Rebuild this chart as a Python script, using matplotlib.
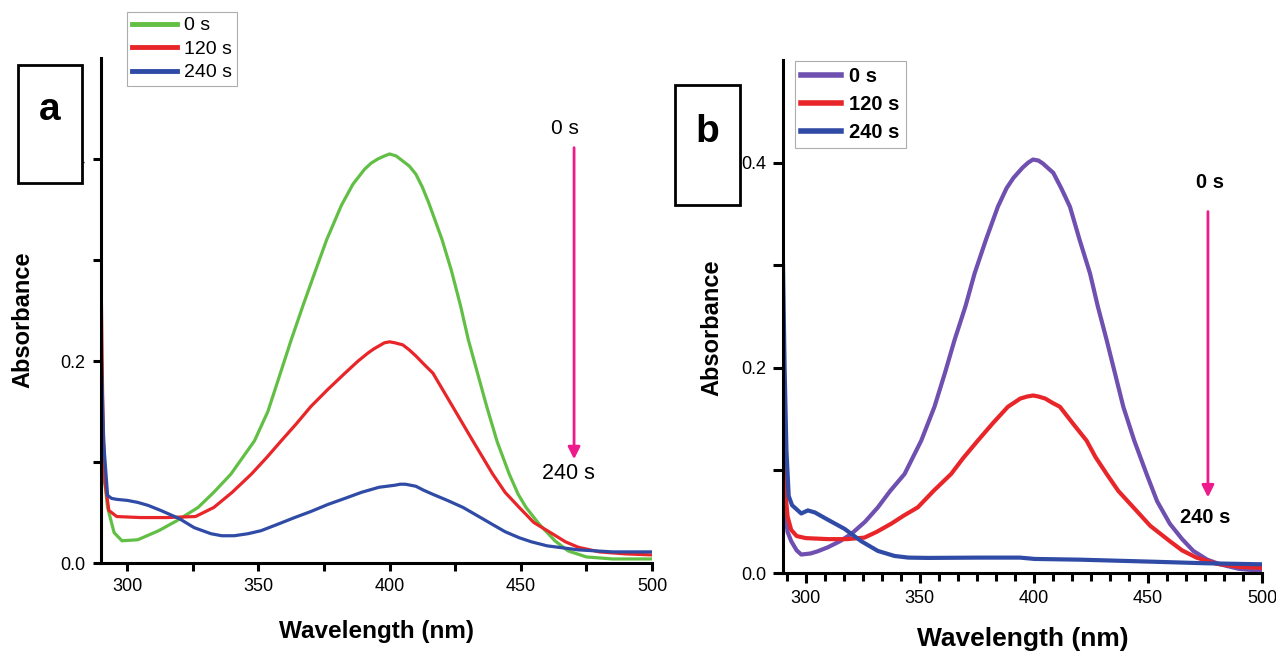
import matplotlib
matplotlib.use("Agg")
import matplotlib.pyplot as plt
import numpy as np
from matplotlib.patches import Rectangle
from matplotlib.ticker import MultipleLocator

plt.rcParams['font.family'] = ['Liberation Sans', 'DejaVu Sans']

# ---- Panel a data (wavelength nm, absorbance) ----
wl_a_0 = [290, 291, 292.5, 295, 298, 304, 312, 319, 327, 333, 339.5, 348.5, 353.6, 358, 362.5,
          367, 371.4, 376, 381.6, 386, 390.5, 393, 395.5, 398, 400, 402.5, 405, 407.5, 410, 412.5,
          415, 420, 423.5, 427, 430, 433.5, 437, 441, 445.6, 449, 452, 457, 463, 468, 475, 485, 500]
abs_a_0 = [0.16, 0.09, 0.055, 0.03, 0.022, 0.023, 0.032, 0.042, 0.055, 0.07, 0.088, 0.121, 0.15,
           0.185, 0.221, 0.255, 0.287, 0.32, 0.354, 0.375, 0.39, 0.396, 0.400, 0.403, 0.405,
           0.403, 0.398, 0.393, 0.385, 0.372, 0.356, 0.32, 0.29, 0.255, 0.221, 0.188, 0.155,
           0.12, 0.088, 0.068, 0.055, 0.0385, 0.022, 0.012, 0.006, 0.004, 0.004]

wl_a_120 = [290, 290.7, 291.5, 293, 296, 305, 315, 326, 333, 340, 347.3, 353, 358.7, 364.5, 370,
            376.5, 383, 388, 391.8, 394, 396, 398, 400, 402, 405, 407.5, 410, 413, 416.5, 424,
            431.7, 439.3, 444, 449.4, 455, 462, 467, 472, 480, 490, 500]
abs_a_120 = [0.29, 0.15, 0.08, 0.052, 0.046, 0.045, 0.045, 0.046, 0.055, 0.07, 0.088, 0.104,
             0.121, 0.138, 0.155, 0.172, 0.188, 0.200, 0.208, 0.212, 0.215, 0.218, 0.219, 0.218,
             0.216, 0.211, 0.205, 0.197, 0.188, 0.155, 0.121, 0.088, 0.07, 0.055, 0.04, 0.029,
             0.021, 0.0155, 0.011, 0.009, 0.008]

wl_a_240 = [290, 291, 292.5, 294, 296, 300, 304, 308, 312.8, 319.8, 325.5, 331.9, 336, 340.8,
            346, 351, 357, 363.8, 370, 376.5, 383, 389.3, 396, 399, 402, 404, 406, 408, 410,
            413, 416.5, 422, 428, 434, 439.3, 444, 449.4, 454, 460, 466, 472, 485, 500]
abs_a_240 = [0.22, 0.12, 0.067, 0.064, 0.063, 0.062, 0.06, 0.057, 0.052, 0.044, 0.035, 0.029,
             0.027, 0.027, 0.029, 0.032, 0.038, 0.045, 0.051, 0.058, 0.064, 0.07, 0.075, 0.076,
             0.077, 0.078, 0.078, 0.077, 0.076, 0.072, 0.068, 0.062, 0.055, 0.046, 0.038, 0.031,
             0.025, 0.021, 0.017, 0.015, 0.013, 0.011, 0.011]

# ---- Panel b data ----
wl_b_0 = [290, 291, 292, 293.6, 296, 298, 302, 305, 309.6, 315, 319.9, 326, 331.6, 337, 343.3,
          347, 350.6, 356.4, 361, 365.2, 370, 374, 379, 384.2, 388, 391, 393, 395, 397.5,
          399.6, 402, 404, 406, 408.5, 412, 415.8, 420, 424.6, 428, 431.9, 435.5, 439.2, 444,
          449.4, 454, 459.6, 465, 469.9, 476, 481.6, 490, 500]
abs_b_0 = [0.10, 0.06, 0.04, 0.031, 0.022, 0.018, 0.019, 0.021, 0.025, 0.031, 0.038, 0.05,
           0.064, 0.08, 0.0965, 0.113, 0.129, 0.162, 0.195, 0.227, 0.26, 0.292, 0.325, 0.357,
           0.375, 0.385, 0.39, 0.395, 0.400, 0.403, 0.402, 0.399, 0.395, 0.39, 0.375, 0.357,
           0.325, 0.292, 0.26, 0.227, 0.195, 0.162, 0.129, 0.0965, 0.07, 0.048, 0.033, 0.0215,
           0.013, 0.0085, 0.004, 0.002]

wl_b_120 = [290, 291, 292, 293.6, 296, 300, 310, 318, 325.7, 331, 337.4, 343, 349.1, 356, 363.7,
            369, 375.4, 382, 388.6, 392, 394, 397, 399.7, 402, 405, 408, 411.4, 417, 423.1, 427,
            431.9, 437, 443.6, 451, 459.6, 465, 471.3, 480, 490, 500]
abs_b_120 = [0.13, 0.08, 0.055, 0.042, 0.036, 0.034, 0.033, 0.033, 0.0345, 0.04, 0.048, 0.056,
             0.064, 0.08, 0.0965, 0.112, 0.129, 0.146, 0.162, 0.167, 0.170, 0.172, 0.173, 0.172,
             0.17, 0.166, 0.162, 0.146, 0.129, 0.113, 0.0965, 0.08, 0.064, 0.046, 0.031, 0.022,
             0.015, 0.009, 0.006, 0.005]

wl_b_240 = [290, 290.7, 291.5, 292.5, 294, 296, 298, 300.9, 304, 309.6, 317, 324.3, 331.6, 338.9,
            345, 353.5, 375.4, 393.9, 400.3, 420, 452.3, 475, 499, 500]
abs_b_240 = [0.30, 0.2, 0.12, 0.075, 0.066, 0.062, 0.058, 0.061, 0.059, 0.052, 0.043, 0.031,
             0.0215, 0.0166, 0.015, 0.0147, 0.015, 0.015, 0.0137, 0.013, 0.011, 0.0095, 0.0085,
             0.0085]

labels = ['0 s', '120 s', '240 s']
colors_a = ['#62bf45', '#e8262a', '#2f4ba6']
colors_b = ['#6f4fb0', '#e8262a', '#2f4ba6']
arrow_color = '#ee1b8c'

W, H = 1276, 658
fig = plt.figure(figsize=(W / 100, H / 100), dpi=100)


def px_rect(x0, y0, x1, y1):
    # caja en pixeles (origen arriba-izquierda) -> fraccion de figura
    return [x0 / W, 1 - y1 / H, (x1 - x0) / W, (y1 - y0) / H]


def style_axes(ax, tick_font, minor_x):
    for s in ['top', 'right']:
        ax.spines[s].set_visible(False)
    for s in ['left', 'bottom']:
        ax.spines[s].set_linewidth(2.2)
    ax.set_xlim(290, 500)
    ax.set_ylim(0, 0.5)
    ax.set_xticks([300, 350, 400, 450, 500])
    ax.xaxis.set_minor_locator(MultipleLocator(minor_x))
    ax.set_yticks([0.0, 0.1, 0.2, 0.3, 0.4])
    ax.set_yticklabels(['0.0', '', '0.2', '', '0.4'])
    ax.tick_params(which='both', direction='out', width=2.2, length=6, pad=5)
    for lab in ax.get_xticklabels() + ax.get_yticklabels():
        lab.set_fontproperties(tick_font)


# ---------- panel a ----------
ax1 = fig.add_axes(px_rect(101, 58, 652, 563))
ax1.plot(wl_a_0, abs_a_0, color=colors_a[0], lw=2.3, label=labels[0])
ax1.plot(wl_a_120, abs_a_120, color=colors_a[1], lw=2.3, label=labels[1])
ax1.plot(wl_a_240, abs_a_240, color=colors_a[2], lw=2.3, label=labels[2])
style_axes(ax1, {'family': 'Liberation Sans', 'size': 13}, 25)
ax1.set_xlabel('Wavelength (nm)', fontsize=17.5, fontweight='bold')
ax1.xaxis.set_label_coords(0.5, -(620 - 563) / 505)
ax1.set_ylabel('Absorbance', fontsize=17, fontweight='bold')
ax1.yaxis.set_label_coords((34 - 101) / 551, (563 - 320) / 505)
ax1.annotate('', xy=(470.3, 0.1), xytext=(470.3, 0.414),
             arrowprops=dict(arrowstyle='-|>', color=arrow_color, lw=2, mutation_scale=18))
ax1.text(467, 0.43, '0 s', fontsize=15, ha='center', va='center')
ax1.text(468, 0.089, '240 s', fontsize=15.5, ha='center', va='center')
leg1 = ax1.legend(loc='upper left', bbox_to_anchor=(127 / W, 1 - 12 / H),
                  bbox_transform=fig.transFigure, fontsize=14, frameon=True, fancybox=False,
                  handlelength=2.3, handletextpad=0.4, labelspacing=0.3, borderpad=0.25,
                  borderaxespad=0)
leg1.get_frame().set_edgecolor('#999999')
leg1.get_frame().set_linewidth(0.8)
for ln in leg1.get_lines():
    ln.set_linewidth(3.5)

# ---------- panel b ----------
ax2 = fig.add_axes(px_rect(783, 60, 1262, 573))
ax2.plot(wl_b_0, abs_b_0, color=colors_b[0], lw=3, label=labels[0])
ax2.plot(wl_b_120, abs_b_120, color=colors_b[1], lw=3, label=labels[1])
ax2.plot(wl_b_240, abs_b_240, color=colors_b[2], lw=3, label=labels[2])
style_axes(ax2, {'family': 'Liberation Sans', 'size': 13}, 50 / 6)
ax2.tick_params(which='major', length=7)
ax2.tick_params(which='minor', length=6)
ax2.set_xlabel('Wavelength (nm)', fontsize=19, fontweight='bold')
ax2.xaxis.set_label_coords(0.5, -(627 - 573) / 513)
ax2.set_ylabel('Absorbance', fontsize=17, fontweight='bold')
ax2.yaxis.set_label_coords((723 - 783) / 479, (573 - 328) / 513)
ax2.annotate('', xy=(476.3, 0.071), xytext=(476.3, 0.355),
             arrowprops=dict(arrowstyle='-|>', color=arrow_color, lw=2, mutation_scale=18))
ax2.text(477, 0.381, '0 s', fontsize=14.5, fontweight='bold', ha='center', va='center')
ax2.text(475, 0.054, '240 s', fontsize=14.5, fontweight='bold', ha='center', va='center')
leg2 = ax2.legend(loc='upper left', bbox_to_anchor=(795 / W, 1 - 61 / H),
                  bbox_transform=fig.transFigure, prop={'size': 14.5, 'weight': 'bold'},
                  frameon=True, fancybox=False, handlelength=2.0, handletextpad=0.4,
                  labelspacing=0.45, borderpad=0.3, borderaxespad=0)
leg2.get_frame().set_edgecolor('#999999')
leg2.get_frame().set_linewidth(0.8)
for ln in leg2.get_lines():
    ln.set_linewidth(4)

# cajas con la letra de cada panel
for (x0, y0, x1, y1), letter, ty in [((18, 65, 82, 183), 'a', 110), ((675, 85, 740, 205), 'b', 132)]:
    r = Rectangle((x0 / W, 1 - y1 / H), (x1 - x0) / W, (y1 - y0) / H, transform=fig.transFigure,
                  facecolor='white', edgecolor='black', lw=2, zorder=10)
    fig.add_artist(r)
    fig.text((x0 + x1) / 2 / W, 1 - ty / H, letter, fontsize=28, fontweight='bold',
             ha='center', va='center', zorder=11)

fig.savefig('out.png', dpi=100)
